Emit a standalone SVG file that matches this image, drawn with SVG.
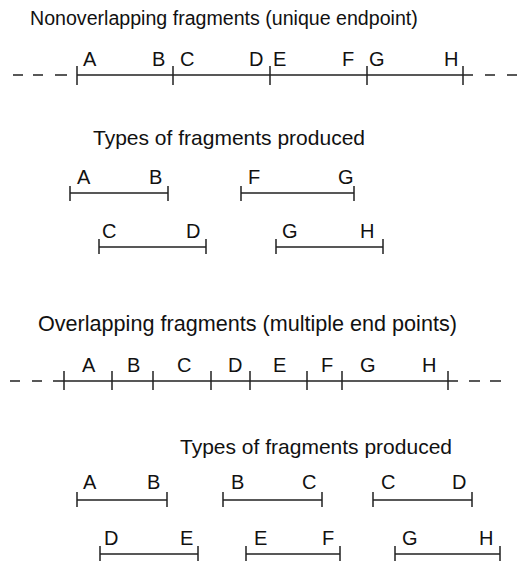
<svg xmlns="http://www.w3.org/2000/svg" width="527" height="562" viewBox="0 0 527 562">
<style>
text{font-family:"Liberation Sans",Arial,Helvetica,sans-serif;font-size:20px;fill:#111}
.t1{font-size:19.6px}
.t2{font-size:21px}
.t3{font-size:21.6px}
line,path{stroke:#222;stroke-width:1.5;fill:none}
</style>
<rect width="527" height="562" fill="#fff"/>
<g id="title1"><text class="t1" x="30" y="25">Nonoverlapping fragments (unique endpoint)</text></g>
<g id="mainline1">
<path d="M13 75H23M33 75H43M55 75H67M77 75H473M485 75H495M507 75H517"/>
<path d="M77 66V85M173 66V85M270 66V85M367 66V85M463 66V85"/>
<text x="83" y="66">A</text><text x="152" y="66">B</text><text x="180" y="66">C</text><text x="249" y="66">D</text>
<text x="273" y="66">E</text><text x="342" y="66">F</text><text x="369" y="66">G</text><text x="444" y="66">H</text>
</g>
<g id="title2"><text class="t2" x="93" y="145">Types of fragments produced</text></g>
<g id="fragAB1"><path d="M70 193H168M70 186V201M168 186V201"/><text x="77" y="184">A</text><text x="149" y="184">B</text></g>
<g id="fragFG1"><path d="M241 193H354M241 186V201M354 186V201"/><text x="248" y="184">F</text><text x="338" y="184">G</text></g>
<g id="fragCD1"><path d="M99 247H206M99 239V254M206 239V254"/><text x="102" y="238">C</text><text x="186" y="238">D</text></g>
<g id="fragGH1"><path d="M276 247H383M276 239V254M383 239V254"/><text x="282" y="238">G</text><text x="360" y="238">H</text></g>
<g id="title3"><text class="t3" x="38" y="331">Overlapping fragments (multiple end points)</text></g>
<g id="mainline2">
<path d="M10 381H20M32 381H42M53 381H458M469 381H480M490 381H501"/>
<path d="M64 371V390M112 371V390M153 371V390M211 371V390M250 371V390M307 371V390M342 371V390M448 371V390"/>
<text x="82" y="372">A</text><text x="127" y="372">B</text><text x="177" y="372">C</text><text x="228" y="372">D</text>
<text x="273" y="372">E</text><text x="321" y="372">F</text><text x="360" y="372">G</text><text x="422" y="372">H</text>
</g>
<g id="title4"><text class="t2" x="180" y="454">Types of fragments produced</text></g>
<g id="fragAB2"><path d="M77 500H167M77 492V507M167 492V507"/><text x="83" y="489">A</text><text x="147" y="489">B</text></g>
<g id="fragBC2"><path d="M223 500H322M223 492V507M322 492V507"/><text x="231" y="489">B</text><text x="302" y="489">C</text></g>
<g id="fragCD2"><path d="M373 500H472M373 492V507M472 492V507"/><text x="381" y="489">C</text><text x="452" y="489">D</text></g>
<g id="fragDE2"><path d="M100 554H198M100 546V561M198 546V561"/><text x="104" y="545">D</text><text x="180" y="545">E</text></g>
<g id="fragEF2"><path d="M246 554H340M246 546V561M340 546V561"/><text x="254" y="545">E</text><text x="322" y="545">F</text></g>
<g id="fragGH2"><path d="M395 554H500M395 546V561M500 546V561"/><text x="402" y="545">G</text><text x="479" y="545">H</text></g>
<g id="connectors"/>
</svg>
